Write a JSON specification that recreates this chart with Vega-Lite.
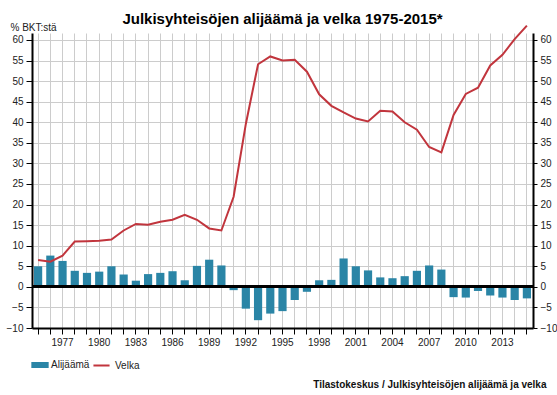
{
  "$schema": "https://vega.github.io/schema/vega-lite/v6.json",
  "width": 501,
  "height": 295,
  "autosize": {"type": "none"},
  "padding": {"left": 32, "top": 33, "right": 24, "bottom": 67},
  "background": "white",
  "title": {
    "text": "Julkisyhteisöjen alijäämä ja velka 1975-2015*",
    "font": "Liberation Sans",
    "fontSize": 15,
    "fontWeight": "bold",
    "color": "#000",
    "anchor": "middle",
    "offset": 12,
    "dy": 17
  },
  "config": {
    "view": {"stroke": null},
    "font": "Liberation Sans",
    "axis": {
      "labelFont": "Liberation Sans",
      "labelFontSize": 10,
      "labelColor": "#222",
      "titleFont": "Liberation Sans",
      "titleColor": "#222",
      "domainColor": "#000",
      "domainWidth": 2,
      "tickColor": "#000",
      "gridColor": "#cccccc",
      "gridWidth": 1
    },
    "legend": {"labelFont": "Liberation Sans", "labelFontSize": 10, "labelColor": "#222"}
  },
  "data": {
    "values": [
      {"year": 1975, "alijaama": 5.0, "velka": 6.5},
      {"year": 1976, "alijaama": 7.6, "velka": 6.1},
      {"year": 1977, "alijaama": 6.3, "velka": 7.6},
      {"year": 1978, "alijaama": 3.9, "velka": 11.0},
      {"year": 1979, "alijaama": 3.4, "velka": 11.1},
      {"year": 1980, "alijaama": 3.7, "velka": 11.2},
      {"year": 1981, "alijaama": 5.0, "velka": 11.5},
      {"year": 1982, "alijaama": 3.0, "velka": 13.7},
      {"year": 1983, "alijaama": 1.5, "velka": 15.3},
      {"year": 1984, "alijaama": 3.1, "velka": 15.1},
      {"year": 1985, "alijaama": 3.4, "velka": 15.8},
      {"year": 1986, "alijaama": 3.8, "velka": 16.3},
      {"year": 1987, "alijaama": 1.6, "velka": 17.5},
      {"year": 1988, "alijaama": 5.1, "velka": 16.3},
      {"year": 1989, "alijaama": 6.6, "velka": 14.2},
      {"year": 1990, "alijaama": 5.2, "velka": 13.7},
      {"year": 1991, "alijaama": -0.8, "velka": 21.9},
      {"year": 1992, "alijaama": -5.3, "velka": 39.6},
      {"year": 1993, "alijaama": -8.1, "velka": 54.1},
      {"year": 1994, "alijaama": -6.5, "velka": 56.0},
      {"year": 1995, "alijaama": -5.9, "velka": 55.0},
      {"year": 1996, "alijaama": -3.2, "velka": 55.2},
      {"year": 1997, "alijaama": -1.2, "velka": 52.3},
      {"year": 1998, "alijaama": 1.6, "velka": 46.8},
      {"year": 1999, "alijaama": 1.7, "velka": 44.0},
      {"year": 2000, "alijaama": 6.9, "velka": 42.4},
      {"year": 2001, "alijaama": 5.0, "velka": 40.9},
      {"year": 2002, "alijaama": 4.0, "velka": 40.2},
      {"year": 2003, "alijaama": 2.3, "velka": 42.8},
      {"year": 2004, "alijaama": 2.1, "velka": 42.6},
      {"year": 2005, "alijaama": 2.6, "velka": 40.0},
      {"year": 2006, "alijaama": 3.9, "velka": 38.2},
      {"year": 2007, "alijaama": 5.2, "velka": 34.0},
      {"year": 2008, "alijaama": 4.2, "velka": 32.7},
      {"year": 2009, "alijaama": -2.5, "velka": 41.8},
      {"year": 2010, "alijaama": -2.6, "velka": 46.9},
      {"year": 2011, "alijaama": -1.0, "velka": 48.4},
      {"year": 2012, "alijaama": -2.1, "velka": 53.8},
      {"year": 2013, "alijaama": -2.6, "velka": 56.4},
      {"year": 2014, "alijaama": -3.2, "velka": 60.2},
      {"year": 2015, "alijaama": -2.8, "velka": 63.5}
    ]
  },
  "layer": [
    {
      "mark": {"type": "bar"},
      "encoding": {
        "x": {
          "field": "year",
          "type": "ordinal",
          "scale": {"paddingInner": 0.33, "paddingOuter": 0.165},
          "axis": {
            "title": "Tilastokeskus / Julkisyhteisöjen alijäämä ja velka",
            "titleFontSize": 10,
            "titleFontWeight": "bold",
            "titleColor": "#111",
            "titleAnchor": "end",
            "titleAlign": "right",
            "titleBaseline": "alphabetic",
            "titleX": 514,
            "titleY": 59,
            "labelAngle": 0,
            "labelExpr": "(datum.value - 1977) % 3 == 0 ? datum.value : ''",
            "labelOverlap": false,
            "labelPadding": 3,
            "tickSize": 6,
            "grid": true
          }
        },
        "y": {
          "field": "alijaama",
          "type": "quantitative",
          "scale": {"domain": [-10, 61.7], "nice": false, "zero": false},
          "axis": {
            "orient": "left",
            "values": [-10, -5, 0, 5, 10, 15, 20, 25, 30, 35, 40, 45, 50, 55, 60],
            "grid": true,
            "tickSize": 6,
            "labelPadding": 3,
            "title": "% BKT:stä",
            "titleFontSize": 10,
            "titleFontWeight": "normal",
            "titleAngle": 0,
            "titleAlign": "left",
            "titleBaseline": "alphabetic",
            "titleX": -22,
            "titleY": -3
          }
        },
        "fill": {
          "datum": "Alijäämä",
          "scale": {"range": ["#2a85a6"]},
          "legend": {
            "orient": "none",
            "legendX": -1,
            "legendY": 323,
            "title": null,
            "symbolType": "M-1,-0.35H1V0.35H-1Z",
            "symbolSize": 300,
            "symbolStrokeWidth": 0,
            "labelOffset": 2
          }
        }
      }
    },
    {
      "mark": {"type": "rule", "color": "#000", "strokeWidth": 2},
      "encoding": {
        "y": {"datum": 0, "type": "quantitative", "axis": null}
      }
    },
    {
      "mark": {"type": "line", "strokeWidth": 2, "clip": false},
      "encoding": {
        "x": {"field": "year", "type": "ordinal"},
        "y": {
          "field": "velka",
          "type": "quantitative",
          "axis": {
            "orient": "right",
            "values": [-10, -5, 0, 5, 10, 15, 20, 25, 30, 35, 40, 45, 50, 55, 60],
            "grid": false,
            "tickSize": 4,
            "labelPadding": 3,
            "title": null
          }
        },
        "stroke": {
          "datum": "Velka",
          "scale": {"range": ["#c1353d"]},
          "legend": {
            "orient": "none",
            "legendX": 60,
            "legendY": 323,
            "title": null,
            "symbolType": "stroke",
            "symbolSize": 260,
            "symbolStrokeWidth": 2
          }
        }
      }
    }
  ],
  "resolve": {"axis": {"y": "independent"}}
}
